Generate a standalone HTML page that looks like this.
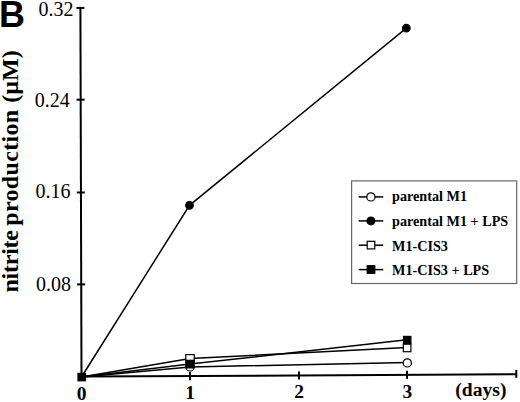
<!DOCTYPE html>
<html><head><meta charset="utf-8">
<style>
html,body{margin:0;padding:0;background:#fff;}
body{width:520px;height:402px;overflow:hidden;}
svg{display:block;}
.t{font-family:"Liberation Serif",serif;}
</style></head>
<body>
<svg width="520" height="402" viewBox="0 0 520 402">
<rect width="520" height="402" fill="#fff"/>
<!-- panel letter -->
<text x="-1" y="27" font-family="Liberation Sans, sans-serif" font-weight="bold" font-size="36" fill="#000">B</text>
<!-- y axis label -->
<text class="t" transform="translate(18,292.5) rotate(-90)" y="0" font-weight="bold" font-size="24" fill="#000"><tspan x="0" style="letter-spacing:-0.25px">nitrite</tspan><tspan x="66.8" style="letter-spacing:0.33px">production</tspan><tspan x="189.8">(µM)</tspan></text>
<!-- axes -->
<g stroke="#000" stroke-width="2" fill="none">
<line x1="80.4" y1="7.8" x2="81.5" y2="377"/>
<line x1="81.5" y1="376.6" x2="516.5" y2="374.2"/>
<!-- y ticks -->
<line x1="76.4" y1="7.9" x2="84.4" y2="7.9"/>
<line x1="76.6" y1="99.7" x2="84.6" y2="99.7"/>
<line x1="76.8" y1="192.5" x2="84.8" y2="192.5"/>
<line x1="77.1" y1="284.4" x2="85.1" y2="284.4"/>
<!-- x ticks -->
<line x1="190" y1="372" x2="190" y2="380.2"/>
<line x1="299" y1="371.4" x2="299" y2="379.5"/>
<line x1="407" y1="370.7" x2="407" y2="378.8"/>
<line x1="516.3" y1="369.9" x2="516.3" y2="377.8"/>
</g>
<!-- y tick labels -->
<g class="t" font-size="20" fill="#000" text-anchor="end">
<text x="73.4" y="15.6">0.32</text>
<text x="69.8" y="107.4">0.24</text>
<text x="70.4" y="197.8">0.16</text>
<text x="71" y="291.2">0.08</text>
</g>
<!-- x tick labels -->
<g class="t" font-size="19.5" font-weight="bold" fill="#000" text-anchor="middle">
<text x="81.6" y="399.8">0</text>
<text x="190.1" y="398.9">1</text>
<text x="299" y="398.2">2</text>
<text x="407.3" y="397.7">3</text>
</g>
<text class="t" x="455.3" y="396" font-size="19.6" font-weight="bold" fill="#000">(days)</text>
<!-- data lines -->
<g stroke="#000" stroke-width="1.5" fill="none">
<polyline points="81.5,377 189.5,205.3 406.3,28.2"/>
<polyline points="81.5,377 190,358.5 407,347.5"/>
<polyline points="81.5,377 190,364.1 407,339.8"/>
<polyline points="81.5,377 190,366.9 407.3,362.6"/>
</g>
<!-- markers -->
<g stroke="#000" stroke-width="1.2">
<circle cx="190" cy="366.9" r="4.1" fill="#fff"/>
<circle cx="407.3" cy="362.9" r="4.1" fill="#fff"/>
<rect x="185.8" y="354.6" width="8.4" height="7.8" fill="#fff"/>
<rect x="403.3" y="344.1" width="7.6" height="7.6" fill="#fff"/>
<rect x="185.9" y="360.3" width="8.2" height="7.6" fill="#000"/>
<rect x="403.5" y="336.4" width="7.4" height="7.4" fill="#000"/>
<circle cx="189.5" cy="205.3" r="3.8" fill="#000"/>
<circle cx="406.3" cy="28.2" r="3.8" fill="#000"/>
<rect x="78" y="373.4" width="7.4" height="7.4" fill="#000"/>
</g>
<!-- legend -->
<rect x="351.6" y="180.9" width="165.1" height="102.6" fill="none" stroke="#666" stroke-width="1.2"/>
<g stroke="#000" stroke-width="1.5">
<line x1="358.7" y1="196.9" x2="383.3" y2="196.9"/>
<line x1="358.7" y1="220.9" x2="383.3" y2="220.9"/>
<line x1="358.7" y1="245.2" x2="383.3" y2="245.2"/>
<line x1="358.7" y1="269.6" x2="383.3" y2="269.6"/>
</g>
<g stroke="#000" stroke-width="1.2">
<circle cx="370.9" cy="196.9" r="4.1" fill="#fff"/>
<circle cx="370.9" cy="220.9" r="3.9" fill="#000"/>
<rect x="367.2" y="241.3" width="7.6" height="7.6" fill="#fff"/>
<rect x="367.2" y="265.7" width="7.6" height="7.6" fill="#000"/>
</g>
<g class="t" font-size="14.2" font-weight="bold" fill="#000">
<text x="392" y="201.4">parental M1</text>
<text x="392" y="225.8">parental M1 + LPS</text>
<text x="392" y="250.5">M1-CIS3</text>
<text x="392" y="274.5">M1-CIS3 + LPS</text>
</g>
</svg>
</body></html>
